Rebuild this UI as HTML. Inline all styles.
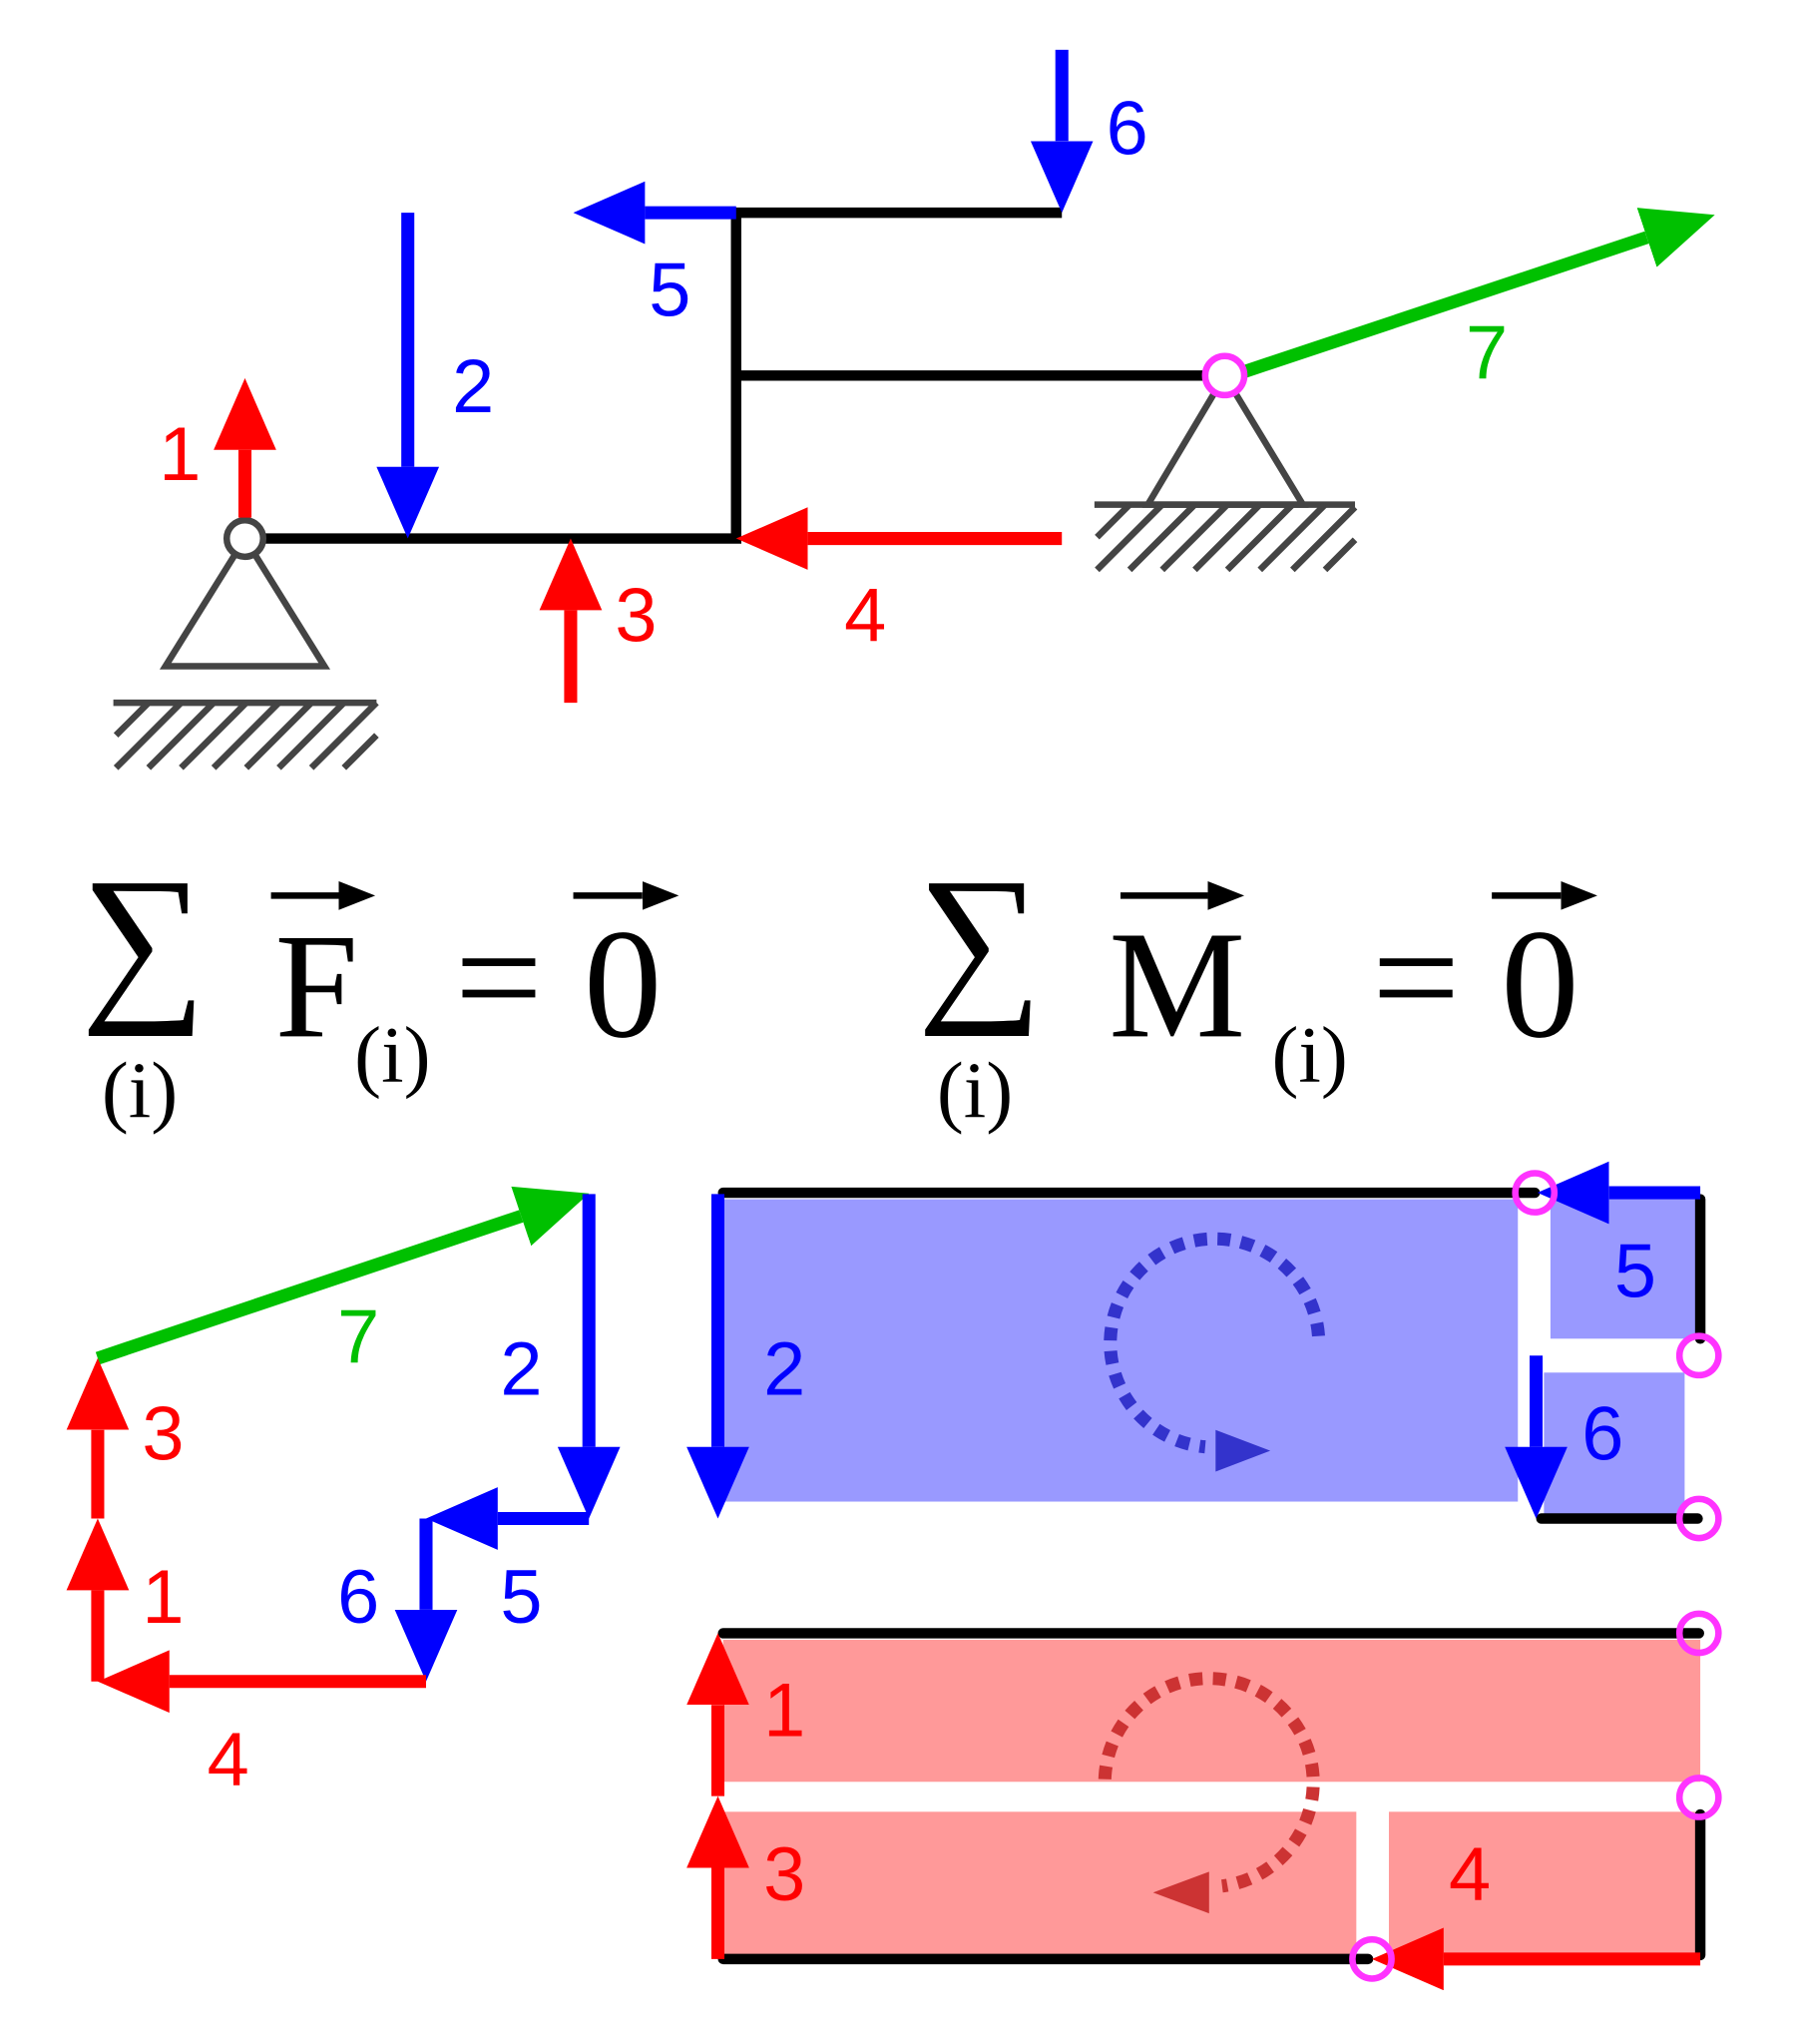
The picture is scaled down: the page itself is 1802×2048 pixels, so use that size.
<!DOCTYPE html>
<html><head><meta charset="utf-8"><style>html,body{margin:0;padding:0;background:#fff}svg{display:block}</style></head><body>
<svg width="1802" height="2048" viewBox="0 0 1380 1568" xmlns="http://www.w3.org/2000/svg">
<defs>
<marker id="hr" markerUnits="userSpaceOnUse" markerWidth="60" markerHeight="50" refX="0" refY="24" orient="auto" viewBox="0 0 60 50"><path d="M0,0 L55,24 L0,48z" fill="#ff0000"/></marker>
<marker id="hb" markerUnits="userSpaceOnUse" markerWidth="60" markerHeight="50" refX="0" refY="24" orient="auto" viewBox="0 0 60 50"><path d="M0,0 L55,24 L0,48z" fill="#0000ff"/></marker>
<marker id="hg" markerUnits="userSpaceOnUse" markerWidth="60" markerHeight="50" refX="0" refY="24" orient="auto" viewBox="0 0 60 50"><path d="M0,0 L55,24 L0,48z" fill="#00c000"/></marker>
<marker id="hk" markerUnits="userSpaceOnUse" markerWidth="40" markerHeight="30" refX="0" refY="11" orient="auto" viewBox="0 0 40 30"><path d="M0,0 L28,11 L0,22z" fill="#000"/></marker>
</defs>
<g font-family="Liberation Sans, sans-serif" font-size="58">
<g stroke="#000" stroke-width="8" fill="none">
<path d="M188,413 H565 V163 H815 M565,288 H940"/>
</g>
<g stroke="#444" stroke-width="5" fill="none">
<path d="M188,413 L127,511 H249 Z"/>
<path d="M87,539 H289"/>
<path d="M89,564 L114,539 M89,589 L139,539 M114,589 L164,539 M139,589 L189,539 M164,589 L214,539 M189,589 L239,539 M214,589 L264,539 M239,589 L289,539 M264,589 L289,564"/>
<path d="M940,288 L881,387 H1000 Z"/>
<path d="M840,387 H1040"/>
<path d="M842,412 L867,387 M842,437 L892,387 M867,437 L917,387 M892,437 L942,387 M917,437 L967,387 M942,437 L992,387 M967,437 L1017,387 M992,437 L1040,389 M1017,437 L1040,414"/>
</g>
<circle cx="188" cy="413" r="14" fill="#fff" stroke="#444" stroke-width="5"/>
<g stroke-width="10" fill="none">
<line x1="188" y1="397" x2="188" y2="345" stroke="#f00" marker-end="url(#hr)"/>
<line x1="313" y1="163" x2="313" y2="358" stroke="#00f" marker-end="url(#hb)"/>
<line x1="438" y1="539" x2="438" y2="468" stroke="#f00" marker-end="url(#hr)"/>
<line x1="815" y1="413" x2="620" y2="413" stroke="#f00" marker-end="url(#hr)"/>
<line x1="565" y1="163" x2="495" y2="163" stroke="#00f" marker-end="url(#hb)"/>
<line x1="815" y1="38" x2="815" y2="108" stroke="#00f" marker-end="url(#hb)"/>
<line x1="955" y1="285" x2="1264" y2="182" stroke="#00c000" marker-end="url(#hg)"/>
</g>
<circle cx="940" cy="288" r="15" fill="#fff" stroke="#ff33ff" stroke-width="5"/>
<text x="122" y="368" fill="#f00">1</text>
<text x="347" y="316" fill="#00f">2</text>
<text x="472" y="492" fill="#f00">3</text>
<text x="648" y="492" fill="#f00">4</text>
<text x="498" y="242" fill="#00f">5</text>
<text x="849" y="118" fill="#00f">6</text>
<text x="1125" y="290" fill="#00c000">7</text>

<g font-family="Liberation Serif, serif" fill="#000">
<text x="62" y="766" font-size="135">∑</text>
<text x="78" y="857" font-size="62">(i)</text>
<text x="211" y="795" font-size="115">F</text>
<text x="272" y="830" font-size="62">(i)</text>
<text x="349" y="790" font-size="120">=</text>
<text x="448" y="795" font-size="120">0</text>
<text x="704" y="766" font-size="135">∑</text>
<text x="719" y="857" font-size="62">(i)</text>
<text x="851" y="795" font-size="118">M</text>
<text x="976" y="830" font-size="62">(i)</text>
<text x="1053" y="790" font-size="120">=</text>
<text x="1152" y="795" font-size="120">0</text>
</g>
<g stroke="#000" stroke-width="5">
<line x1="208" y1="687" x2="260" y2="687" marker-end="url(#hk)"/>
<line x1="440" y1="687" x2="493" y2="687" marker-end="url(#hk)"/>
<line x1="860" y1="687" x2="927" y2="687" marker-end="url(#hk)"/>
<line x1="1145" y1="687" x2="1198" y2="687" marker-end="url(#hk)"/>
</g>

<g stroke-width="10" fill="none">
<line x1="75" y1="1042" x2="400" y2="933" stroke="#00c000" marker-end="url(#hg)"/>
<line x1="452" y1="916" x2="452" y2="1110" stroke="#00f" marker-end="url(#hb)"/>
<line x1="452" y1="1165" x2="382" y2="1165" stroke="#00f" marker-end="url(#hb)"/>
<line x1="327" y1="1165" x2="327" y2="1235" stroke="#00f" marker-end="url(#hb)"/>
<line x1="327" y1="1290" x2="130" y2="1290" stroke="#f00" marker-end="url(#hr)"/>
<line x1="75" y1="1290" x2="75" y2="1220" stroke="#f00" marker-end="url(#hr)"/>
<line x1="75" y1="1165" x2="75" y2="1097" stroke="#f00" marker-end="url(#hr)"/>
</g>
<text x="259" y="1045" fill="#00c000">7</text>
<text x="384" y="1070" fill="#00f">2</text>
<text x="109" y="1120" fill="#f00">3</text>
<text x="109" y="1245" fill="#f00">1</text>
<text x="259" y="1245" fill="#00f">6</text>
<text x="384" y="1245" fill="#00f">5</text>
<text x="159" y="1370" fill="#f00">4</text>

<rect x="555" y="920" width="610" height="232" fill="#9999ff"/>
<rect x="1190" y="920" width="115" height="107" fill="#9999ff"/>
<rect x="1185" y="1053" width="108" height="112" fill="#9999ff"/>
<g stroke="#000" stroke-width="8" stroke-linecap="round" fill="none">
<path d="M555,915 H1178 M1305,920 V1027 M1183,1165 H1303"/>
</g>
<path d="M1012,1025 A80,80 0 1 0 925,1110" stroke="#3333cc" stroke-width="10" stroke-dasharray="10 8" fill="none"/>
<polygon points="933,1097 975,1113 933,1129" fill="#3333cc"/>
<g stroke-width="10" fill="none">
<line x1="551" y1="916" x2="551" y2="1110" stroke="#00f" marker-end="url(#hb)"/>
<line x1="1305" y1="915" x2="1235" y2="915" stroke="#00f" marker-end="url(#hb)"/>
<line x1="1179" y1="1040" x2="1179" y2="1110" stroke="#00f" marker-end="url(#hb)"/>
</g>
<g fill="none" stroke="#ff33ff" stroke-width="5">
<circle cx="1178" cy="915" r="15"/><circle cx="1304" cy="1040" r="15"/><circle cx="1304" cy="1165" r="15"/>
</g>
<text x="586" y="1070" fill="#00f">2</text>
<text x="1239" y="995" fill="#00f">5</text>
<text x="1214" y="1120" fill="#00f">6</text>

<rect x="555" y="1258" width="750" height="109" fill="#ff9999"/>
<rect x="555" y="1390" width="486" height="112" fill="#ff9999"/>
<rect x="1066" y="1390" width="239" height="112" fill="#ff9999"/>
<g stroke="#000" stroke-width="8" stroke-linecap="round" fill="none">
<path d="M555,1253 H1304 M1305,1392 V1500 M555,1503 H1050"/>
</g>
<path d="M848,1365 A80,80 0 1 1 938,1447" stroke="#cc3333" stroke-width="10" stroke-dasharray="10 8" fill="none"/>
<polygon points="928,1436 885,1452 928,1468" fill="#cc3333"/>
<g stroke-width="10" fill="none">
<line x1="551" y1="1378" x2="551" y2="1308" stroke="#f00" marker-end="url(#hr)"/>
<line x1="551" y1="1503" x2="551" y2="1433" stroke="#f00" marker-end="url(#hr)"/>
<line x1="1305" y1="1503" x2="1108" y2="1503" stroke="#f00" marker-end="url(#hr)"/>
</g>
<g fill="none" stroke="#ff33ff" stroke-width="5">
<circle cx="1304" cy="1253" r="15"/><circle cx="1304" cy="1379" r="15"/><circle cx="1053" cy="1503" r="15"/>
</g>
<text x="586" y="1332" fill="#f00">1</text>
<text x="586" y="1458" fill="#f00">3</text>
<text x="1112" y="1458" fill="#f00">4</text>
</g>
</svg>
</body></html>
